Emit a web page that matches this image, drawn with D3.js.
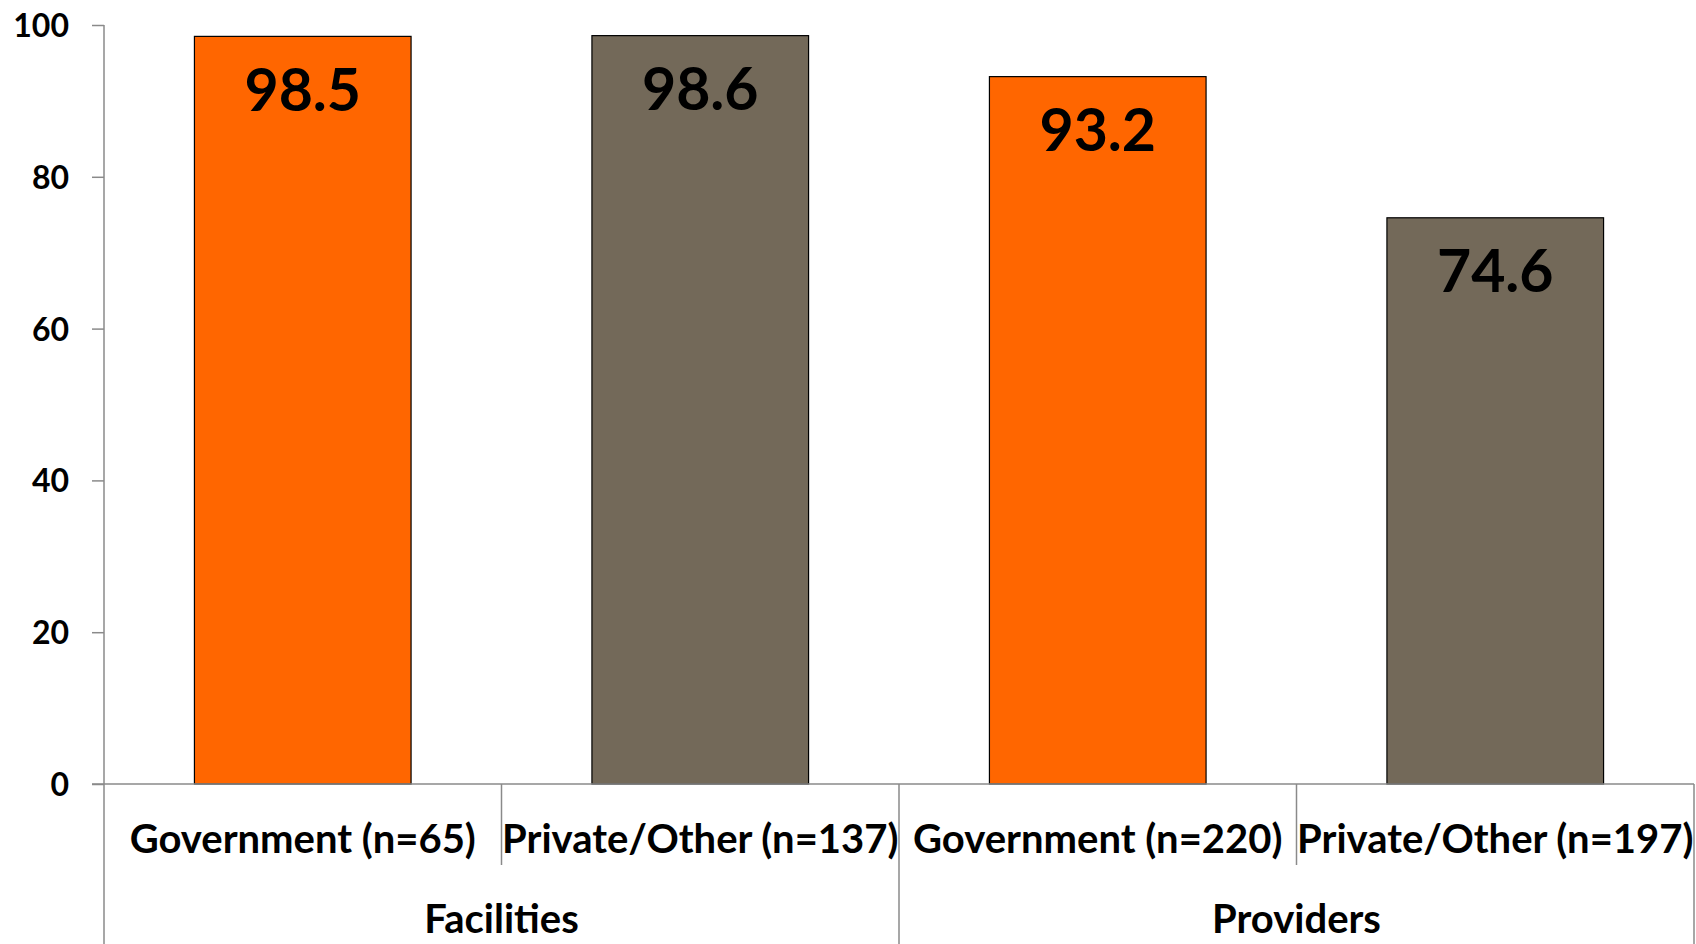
<!DOCTYPE html>
<html>
<head>
<meta charset="utf-8">
<script src="https://cdn.jsdelivr.net/npm/d3@7"></script>
<style>
  html, body { margin: 0; padding: 0; background: #ffffff; }
  svg { display: block; }
  text { font-family: Lato, "Open Sans", sans-serif; font-weight: 700; fill: #000; }
</style>
</head>
<body>
<svg id="chart" width="1696" height="944"></svg>
<script>
// ---- data ----
const categories = ["Government (n=65)", "Private/Other (n=137)", "Government (n=220)", "Private/Other (n=197)"];
const groupOfCategory = ["Facilities", "Facilities", "Providers", "Providers"];
const groups = ["Facilities", "Providers"];
const sectorOfCategory = ["Government", "Private/Other", "Government", "Private/Other"];
const values = [98.5, 98.6, 93.2, 74.6];
const yTicks = [0, 20, 40, 60, 80, 100];

// ---- layout ----
const W = 1696, H = 944;
const x0 = 104, x1 = 1694, yTop = 25, yBase = 784;
const colors = { "Government": "#FF6600", "Private/Other": "#736959" };
const axisColor = "#8a8a8a";
const labelSize = 59, tickSize = 32, catSize = 40;

const svg = d3.select("#chart");

const y = d3.scaleLinear().domain([0, 100]).range([yBase, yTop]);
const x = d3.scaleBand().domain(categories).range([x0, x1]).paddingInner(0.455).paddingOuter(0.2275);
const step = x.step();

// bars
svg.append("g").selectAll("rect").data(values).join("rect")
  .attr("x", (d, i) => x(categories[i]))
  .attr("y", d => y(d))
  .attr("width", x.bandwidth())
  .attr("height", d => yBase - y(d))
  .attr("fill", (d, i) => colors[sectorOfCategory[i]])
  .attr("stroke", "#000")
  .attr("stroke-width", 1.2);

// data labels
svg.append("g").selectAll("text").data(values).join("text")
  .attr("x", (d, i) => x(categories[i]) + x.bandwidth() / 2)
  .attr("y", d => y(d) + 53 + 0.36 * labelSize)
  .attr("text-anchor", "middle")
  .style("font-size", labelSize + "px")
  .text(d => d.toFixed(1));

// y axis
const yAxis = d3.axisLeft(y).tickValues(yTicks).tickSize(12).tickPadding(23).tickFormat(d3.format("d"));
const gy = svg.append("g").attr("transform", `translate(${x0},0)`).call(yAxis);
gy.select(".domain").remove();
gy.selectAll(".tick line").attr("stroke", axisColor).attr("stroke-width", 1.5);
gy.selectAll(".tick text").style("font-size", tickSize + "px").style("font-family", "Lato, sans-serif").style("font-weight", 700).attr("fill", "#000").attr("dy", "0.36em");

// y axis line
svg.append("line").attr("x1", x0).attr("x2", x0).attr("y1", yTop).attr("y2", H)
  .attr("stroke", axisColor).attr("stroke-width", 1.5);
// x axis line
svg.append("line").attr("x1", x0 - 12).attr("x2", x1).attr("y1", yBase).attr("y2", yBase)
  .attr("stroke", axisColor).attr("stroke-width", 1.5);

// category separators
const boundaries = d3.range(1, categories.length + 1).map(i => x0 + i * step);
svg.append("g").selectAll("line").data(boundaries).join("line")
  .attr("x1", d => d).attr("x2", d => d)
  .attr("y1", yBase)
  .attr("y2", (d, i) => {
    const idx = i + 1;
    const isGroupEdge = idx === categories.length || groupOfCategory[idx] !== groupOfCategory[idx - 1];
    return isGroupEdge ? H : 865;
  })
  .attr("stroke", axisColor).attr("stroke-width", 1.5);

// category labels
svg.append("g").selectAll("text").data(categories).join("text")
  .attr("x", d => x(d) + x.bandwidth() / 2)
  .attr("y", 853)
  .attr("text-anchor", "middle")
  .style("font-size", catSize + "px")
  .text(d => d);

// group labels
svg.append("g").selectAll("text").data(groups).join("text")
  .attr("x", g => {
    const idx = categories.map((c, i) => i).filter(i => groupOfCategory[i] === g);
    return x0 + (d3.min(idx) + d3.max(idx) + 1) / 2 * step;
  })
  .attr("y", 933)
  .attr("text-anchor", "middle")
  .style("font-size", catSize + "px")
  .text(g => g);
</script>
</body>
</html>
